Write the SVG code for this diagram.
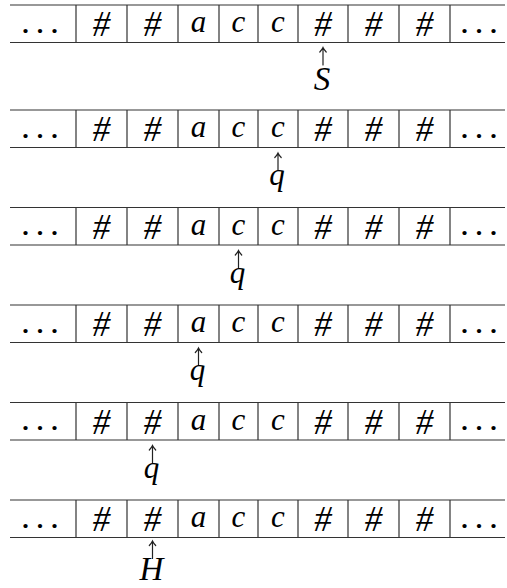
<svg xmlns="http://www.w3.org/2000/svg" width="507" height="588" viewBox="0 0 507 588">
  <style>
    .rule { stroke: #333; stroke-width: 1.2; fill: none; }
    .sym { font-family: "Liberation Serif", "Times New Roman", serif; font-style: italic; font-size: 35px; text-anchor: middle; fill: #000; }
    .var { font-family: "Liberation Serif", "Times New Roman", serif; font-style: italic; font-size: 31px; text-anchor: middle; fill: #000; }
    .dots { font-family: "Liberation Serif", "Times New Roman", serif; font-size: 26px; font-weight: bold; word-spacing: 1.5px; text-anchor: middle; fill: #000; }
    .lbl { font-family: "Liberation Serif", "Times New Roman", serif; font-style: italic; font-size: 33px; text-anchor: middle; fill: #000; }
    .ptr { stroke: #222; stroke-width: 1.2; fill: none; stroke-linecap: round; }
  </style>
  <defs>
    <!-- one tape: two rules and the cell separators; origin = top of the tape -->
    <g id="tape">
      <path class="rule" d="M10,0 H505 M10,37.5 H505 M76,0 V37.5 M127,0 V37.5 M178,0 V37.5 M219,0 V37.5 M258,0 V37.5 M298,0 V37.5 M348,0 V37.5 M399,0 V37.5 M450,0 V37.5"/>
    </g>
    <!-- upward pointer, origin at the arrow tip -->
    <path id="up" class="ptr" d="M0,0 V17.5 M-3.2,4.5 Q-1,2.2 0,0 Q1,2.2 3.2,4.5"/>
  </defs>

  <g id="tape-1" transform="translate(0,5)">
    <use href="#tape"/>
    <text class="dots" x="40" y="27.5">. . .</text>
    <text class="sym" x="101.5" y="31">#</text>
    <text class="sym" x="152.5" y="31">#</text>
    <text class="var" x="198.5" y="27">a</text>
    <text class="var" x="238.5" y="27">c</text>
    <text class="var" x="278" y="27">c</text>
    <text class="sym" x="323" y="31">#</text>
    <text class="sym" x="373.5" y="31">#</text>
    <text class="sym" x="424.5" y="31">#</text>
    <text class="dots" x="479" y="27.5">. . .</text>
  </g>

  <g id="tape-2" transform="translate(0,110)">
    <use href="#tape"/>
    <text class="dots" x="40" y="27.5">. . .</text>
    <text class="sym" x="101.5" y="31">#</text>
    <text class="sym" x="152.5" y="31">#</text>
    <text class="var" x="198.5" y="27">a</text>
    <text class="var" x="238.5" y="27">c</text>
    <text class="var" x="278" y="27">c</text>
    <text class="sym" x="323" y="31">#</text>
    <text class="sym" x="373.5" y="31">#</text>
    <text class="sym" x="424.5" y="31">#</text>
    <text class="dots" x="479" y="27.5">. . .</text>
  </g>

  <g id="tape-3" transform="translate(0,207.5)">
    <use href="#tape"/>
    <text class="dots" x="40" y="27.5">. . .</text>
    <text class="sym" x="101.5" y="31">#</text>
    <text class="sym" x="152.5" y="31">#</text>
    <text class="var" x="198.5" y="27">a</text>
    <text class="var" x="238.5" y="27">c</text>
    <text class="var" x="278" y="27">c</text>
    <text class="sym" x="323" y="31">#</text>
    <text class="sym" x="373.5" y="31">#</text>
    <text class="sym" x="424.5" y="31">#</text>
    <text class="dots" x="479" y="27.5">. . .</text>
  </g>

  <g id="tape-4" transform="translate(0,305)">
    <use href="#tape"/>
    <text class="dots" x="40" y="27.5">. . .</text>
    <text class="sym" x="101.5" y="31">#</text>
    <text class="sym" x="152.5" y="31">#</text>
    <text class="var" x="198.5" y="27">a</text>
    <text class="var" x="238.5" y="27">c</text>
    <text class="var" x="278" y="27">c</text>
    <text class="sym" x="323" y="31">#</text>
    <text class="sym" x="373.5" y="31">#</text>
    <text class="sym" x="424.5" y="31">#</text>
    <text class="dots" x="479" y="27.5">. . .</text>
  </g>

  <g id="tape-5" transform="translate(0,402.5)">
    <use href="#tape"/>
    <text class="dots" x="40" y="27.5">. . .</text>
    <text class="sym" x="101.5" y="31">#</text>
    <text class="sym" x="152.5" y="31">#</text>
    <text class="var" x="198.5" y="27">a</text>
    <text class="var" x="238.5" y="27">c</text>
    <text class="var" x="278" y="27">c</text>
    <text class="sym" x="323" y="31">#</text>
    <text class="sym" x="373.5" y="31">#</text>
    <text class="sym" x="424.5" y="31">#</text>
    <text class="dots" x="479" y="27.5">. . .</text>
  </g>

  <g id="tape-6" transform="translate(0,500)">
    <use href="#tape"/>
    <text class="dots" x="40" y="27.5">. . .</text>
    <text class="sym" x="101.5" y="31">#</text>
    <text class="sym" x="152.5" y="31">#</text>
    <text class="var" x="198.5" y="27">a</text>
    <text class="var" x="238.5" y="27">c</text>
    <text class="var" x="278" y="27">c</text>
    <text class="sym" x="323" y="31">#</text>
    <text class="sym" x="373.5" y="31">#</text>
    <text class="sym" x="424.5" y="31">#</text>
    <text class="dots" x="479" y="27.5">. . .</text>
  </g>

  <!-- head pointers with their state labels -->
  <g id="pointers">
    <use href="#up" x="323" y="47.5"/>
    <text class="lbl" x="322" y="90">S</text>

    <use href="#up" x="278" y="153"/>
    <text class="var" x="277" y="185">q</text>

    <use href="#up" x="238.5" y="250.5"/>
    <text class="var" x="237.5" y="282.5">q</text>

    <use href="#up" x="198.5" y="348"/>
    <text class="var" x="197.5" y="380">q</text>

    <use href="#up" x="152.5" y="445.5"/>
    <text class="var" x="151.5" y="477.5">q</text>

    <use href="#up" x="152.5" y="541"/>
    <text class="lbl" x="151.5" y="580">H</text>
  </g>
</svg>
